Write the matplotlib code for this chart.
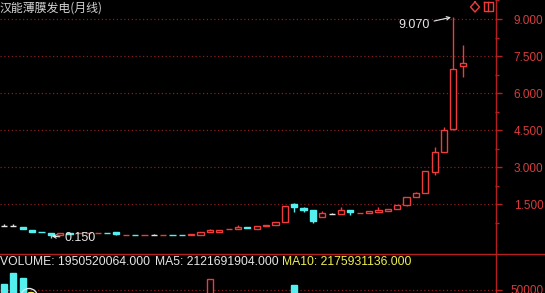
import numpy as np
import matplotlib
matplotlib.use("Agg")
import matplotlib.pyplot as plt
from matplotlib.patches import Circle, Ellipse

# monthly candles (open, close, high, low)
opens = [0.62, 0.62, 0.60, 0.48, 0.38, 0.34, 0.24, 0.33, 0.33, 0.33,
         0.33, 0.35, 0.36, 0.25, 0.27, 0.25, 0.27, 0.25, 0.27, 0.27,
         0.26, 0.27, 0.36, 0.40, 0.49, 0.50, 0.58, 0.52, 0.64, 0.65,
         0.80, 1.50, 1.36, 1.27, 0.98, 1.11, 1.10, 1.27, 1.13, 1.15,
         1.20, 1.21, 1.30, 1.46, 1.78, 1.95, 2.80, 3.61, 4.54, 7.10]
closes = [0.62, 0.62, 0.50, 0.40, 0.36, 0.24, 0.34, 0.31, 0.35, 0.35,
          0.35, 0.33, 0.31, 0.27, 0.25, 0.27, 0.27, 0.27, 0.25, 0.25,
          0.30, 0.37, 0.46, 0.48, 0.51, 0.57, 0.56, 0.62, 0.67, 0.78,
          1.43, 1.38, 1.28, 0.84, 1.16, 1.11, 1.27, 1.17, 1.15, 1.21,
          1.26, 1.31, 1.47, 1.78, 1.95, 2.84, 3.62, 4.51, 6.98, 7.20]
highs = [0.70, 0.72, 0.60, 0.48, 0.38, 0.34, 0.35, 0.33, 0.35, 0.35,
         0.35, 0.35, 0.38, 0.27, 0.27, 0.27, 0.31, 0.27, 0.27, 0.27,
         0.30, 0.37, 0.51, 0.48, 0.51, 0.66, 0.58, 0.62, 0.67, 0.79,
         1.43, 1.54, 1.40, 1.28, 1.23, 1.14, 1.38, 1.27, 1.15, 1.21,
         1.38, 1.31, 1.47, 1.79, 2.00, 2.84, 3.83, 4.64, 9.07, 7.95]
lows = [0.62, 0.62, 0.50, 0.40, 0.36, 0.15, 0.24, 0.31, 0.33, 0.33,
        0.33, 0.33, 0.27, 0.25, 0.25, 0.25, 0.25, 0.25, 0.25, 0.25,
        0.26, 0.27, 0.36, 0.40, 0.49, 0.50, 0.56, 0.52, 0.64, 0.65,
        0.80, 1.20, 1.18, 0.73, 0.97, 1.09, 1.10, 1.08, 1.13, 1.15,
        1.20, 1.21, 1.30, 1.45, 1.78, 1.95, 2.69, 3.61, 4.50, 6.65]
volumes = [56000, 67500, 62500, 44000, 38000, 42000, 35000, 30000, 28000, 25000,
           26000, 22000, 30000, 20000, 18000, 17000, 21000, 16000, 15000, 19000,
           24000, 33000, 61000, 40000, 28000, 36000, 25000, 30000, 27000, 35000,
           45000, 55000, 38000, 42000, 36000, 22000, 34000, 28000, 20000, 24000,
           30000, 26000, 34000, 40000, 38000, 44000, 42000, 45000, 46000, 40000]

price_ticks = [1.5, 3.0, 4.5, 6.0, 7.5, 9.0]
title = "汉能薄膜发电(月线)"
vol_text = "VOLUME: 1950520064.000"
ma5_text = "MA5: 2121691904.000"
ma10_text = "MA10: 2175931136.000"

RED = "#EE3C3C"
CYAN = "#54F0F0"
WHITE = "#E6E6E6"
GRID = "#8A1E1E"
AXIS = "#B42020"
LABEL = "#D83C3C"

W, H = 545, 293
fig = plt.figure(figsize=(W / 100, H / 100), dpi=100, facecolor="black")

# price panel: x 0..495 px, y 0..253 px
ax = fig.add_axes([0, (H - 253) / H, 495 / W, 253 / H], facecolor="black")
# volume panel runs below the bottom edge, like the cropped screenshot
vax = fig.add_axes([0, (H - 340) / H, 495 / W, 87 / H], facecolor="black")

x = np.arange(len(opens))
o = np.array(opens)
c = np.array(closes)
colors = [RED if cc > oo else (CYAN if cc < oo else WHITE) for oo, cc in zip(o, c)]

ax.vlines(x, lows, highs, colors=colors, lw=1, zorder=2)
bottoms = np.minimum(o, c)
heights = np.abs(c - o)
faces = ["black" if col == RED else col for col in colors]
ax.bar(x, heights, bottom=bottoms, width=0.66, color=faces, edgecolor=colors,
       linewidth=1, zorder=3)

ax.set_xlim(-0.427, 52.45)
ax.set_ylim(-0.47, 9.77)
for t in price_ticks:
    ax.axhline(t, color=GRID, lw=0.9, ls=(0, (1, 2)), zorder=1)

ax.annotate("9.070", xy=(47.75, 9.07), xytext=(45.5, 8.74), ha="right", va="center",
            color=WHITE, fontsize=9, family="Liberation Sans",
            arrowprops=dict(arrowstyle="->", color=WHITE, lw=0.8, mutation_scale=6,
                            shrinkA=1, shrinkB=0))
ax.annotate("0.150", xy=(5.1, 0.21), xytext=(6.41, 0.13), ha="left", va="center",
            color=WHITE, fontsize=9, family="Liberation Sans",
            arrowprops=dict(arrowstyle="->", color=WHITE, lw=0.8, mutation_scale=6,
                            shrinkA=1, shrinkB=0))

ax.yaxis.tick_right()
ax.set_yticks(price_ticks)
ax.set_yticklabels(["%.3f" % t for t in price_ticks])
ax.set_yticks(np.arange(0.75, 9.8, 1.5), minor=True)
ax.tick_params(axis="y", which="major", length=5, width=1, color=AXIS,
               labelcolor=LABEL, labelsize=8.5, pad=8.5)
ax.tick_params(axis="y", which="minor", length=3, width=1, color=AXIS)
ax.set_xticks([])
for lab in ax.get_yticklabels():
    lab.set_family("Liberation Sans")
for s in ax.spines.values():
    s.set_visible(False)

# volume bars
vcols = [RED if cc > oo else CYAN for oo, cc in zip(o, c)]
vfaces = ["black" if col == RED else col for col in vcols]
vax.bar(x, volumes, width=0.66, color=vfaces, edgecolor=vcols, linewidth=1, zorder=3)
vax.set_xlim(-0.427, 52.45)
vax.set_ylim(0, 87000)
vax.axhline(50000, color=GRID, lw=0.9, ls=(0, (1, 2)), zorder=1)
vax.yaxis.tick_right()
vax.set_yticks([50000])
vax.set_yticklabels(["50000"])
vax.tick_params(axis="y", length=5, width=1, color=AXIS, labelcolor=LABEL,
                labelsize=8.5, pad=6)
for lab in vax.get_yticklabels():
    lab.set_family("Liberation Sans")
vax.set_xticks([])
for s in vax.spines.values():
    s.set_visible(False)

# overlay in pixel units for frame lines, header texts and icons
ov = fig.add_axes([0, 0, 1, 1], zorder=10)
ov.set_xlim(0, W)
ov.set_ylim(H, 0)
ov.axis("off")
ov.patch.set_alpha(0)
ov.plot([495.5, 495.5], [0, H], color=AXIS, lw=1)
ov.plot([0, W], [253.5, 253.5], color=AXIS, lw=1)

ov.text(0, 8, title, color="#D2D2D2", fontsize=8.6, va="center", ha="left",
        family=["Noto Sans CJK SC", "DejaVu Sans"])
ov.text(0, 262, vol_text, color=WHITE, fontsize=8.7, va="center", family="Liberation Sans")
ov.text(155, 262, ma5_text, color=WHITE, fontsize=8.7, va="center", family="Liberation Sans")
ov.text(282, 262, ma10_text, color="#F0F050", fontsize=8.7, va="center", family="Liberation Sans")

# little toolbar icons top right
ov.plot([475, 479.5, 475, 470.5, 475], [2, 7, 12, 7, 2], color=RED, lw=1)
ov.plot([483.5, 492.5, 492.5, 483.5, 483.5], [1.5, 1.5, 10.5, 10.5, 1.5], color=RED, lw=1)
ov.plot([487.5, 487.5], [1.5, 10.5], color=RED, lw=1)

# marker circle at the bottom-left of the volume panel
ov.add_patch(Circle((29, 297), 8.5, fill=False, edgecolor=WHITE, lw=1))
ov.add_patch(Ellipse((31, 294), 7, 3, color="#F0F050"))

fig.savefig("out.png", dpi=100, facecolor="black")
